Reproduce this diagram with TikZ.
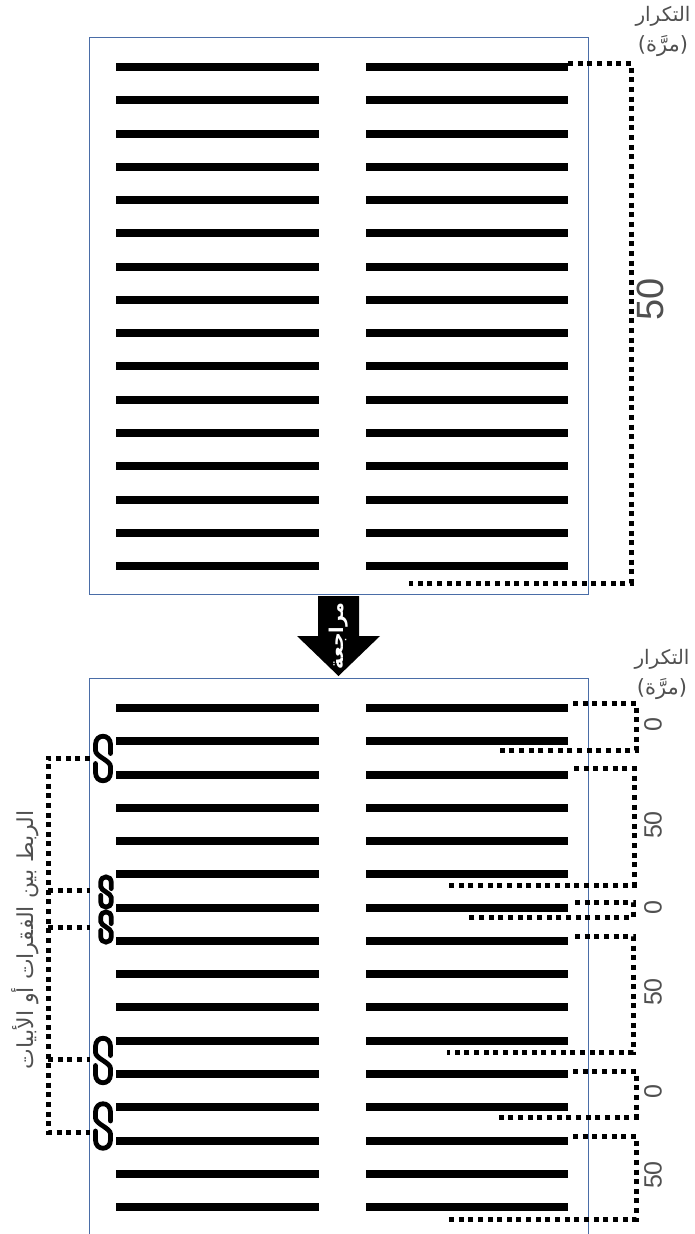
\documentclass[tikz,border=0pt]{standalone}
\usepackage{fontspec}
\TeXXeTstate=1
\newfontfamily\arabicfont[Script=Arabic]{DejaVu Sans}
\newfontfamily\digitfont{Liberation Sans}
\tikzset{
  panelline/.style={line width=1pt,color=panelblue},
  textbar/.style={line width=8pt,color=black},
  repdots/.style={line width=5pt,color=black,dash pattern=on 5pt off 4.65pt},
  linkstroke/.style={line width=4.8pt,color=black,line cap=round},
  replabel/.style={color=labelgray,inner sep=0pt},
  chainlink/.pic={
    \draw[linkstroke] (7.5,-5) -- (7.5,-14) .. controls (7.5,-25) and (-7.5,-25) .. (-7.5,-14) -- (-7.5,-8)
      .. controls (-7.5,-2) and (7.5,2) .. (7.5,8) -- (7.5,14) .. controls (7.5,25) and (-7.5,25) .. (-7.5,14) -- (-7.5,5);
  }
}
\definecolor{panelblue}{HTML}{4A6DA7}
\definecolor{labelgray}{HTML}{505050}
\begin{document}
\begin{tikzpicture}[x=1pt,y=-1pt]
  \useasboundingbox (0,0) rectangle (694,1234);
  \draw[panelline] (89,37) rectangle (588,594);
  \draw[panelline] (89,1234) -- (89,678) -- (588,678) -- (588,1234);
  \draw[textbar] (116,67.0) -- (319,67.0) (366,67.0) -- (568,67.0);
  \draw[textbar] (116,100.3) -- (319,100.3) (366,100.3) -- (568,100.3);
  \draw[textbar] (116,133.5) -- (319,133.5) (366,133.5) -- (568,133.5);
  \draw[textbar] (116,166.8) -- (319,166.8) (366,166.8) -- (568,166.8);
  \draw[textbar] (116,200.1) -- (319,200.1) (366,200.1) -- (568,200.1);
  \draw[textbar] (116,233.4) -- (319,233.4) (366,233.4) -- (568,233.4);
  \draw[textbar] (116,266.6) -- (319,266.6) (366,266.6) -- (568,266.6);
  \draw[textbar] (116,299.9) -- (319,299.9) (366,299.9) -- (568,299.9);
  \draw[textbar] (116,333.2) -- (319,333.2) (366,333.2) -- (568,333.2);
  \draw[textbar] (116,366.4) -- (319,366.4) (366,366.4) -- (568,366.4);
  \draw[textbar] (116,399.7) -- (319,399.7) (366,399.7) -- (568,399.7);
  \draw[textbar] (116,433.0) -- (319,433.0) (366,433.0) -- (568,433.0);
  \draw[textbar] (116,466.2) -- (319,466.2) (366,466.2) -- (568,466.2);
  \draw[textbar] (116,499.5) -- (319,499.5) (366,499.5) -- (568,499.5);
  \draw[textbar] (116,532.8) -- (319,532.8) (366,532.8) -- (568,532.8);
  \draw[textbar] (116,566.0) -- (319,566.0) (366,566.0) -- (568,566.0);
  \draw[textbar] (116,708.0) -- (319,708.0) (366,708.0) -- (568,708.0);
  \draw[textbar] (116,741.3) -- (319,741.3) (366,741.3) -- (568,741.3);
  \draw[textbar] (116,774.5) -- (319,774.5) (366,774.5) -- (568,774.5);
  \draw[textbar] (116,807.8) -- (319,807.8) (366,807.8) -- (568,807.8);
  \draw[textbar] (116,841.1) -- (319,841.1) (366,841.1) -- (568,841.1);
  \draw[textbar] (116,874.4) -- (319,874.4) (366,874.4) -- (568,874.4);
  \draw[textbar] (116,907.6) -- (319,907.6) (366,907.6) -- (568,907.6);
  \draw[textbar] (116,940.9) -- (319,940.9) (366,940.9) -- (568,940.9);
  \draw[textbar] (116,974.2) -- (319,974.2) (366,974.2) -- (568,974.2);
  \draw[textbar] (116,1007.4) -- (319,1007.4) (366,1007.4) -- (568,1007.4);
  \draw[textbar] (116,1040.7) -- (319,1040.7) (366,1040.7) -- (568,1040.7);
  \draw[textbar] (116,1074.0) -- (319,1074.0) (366,1074.0) -- (568,1074.0);
  \draw[textbar] (116,1107.2) -- (319,1107.2) (366,1107.2) -- (568,1107.2);
  \draw[textbar] (116,1140.5) -- (319,1140.5) (366,1140.5) -- (568,1140.5);
  \draw[textbar] (116,1173.8) -- (319,1173.8) (366,1173.8) -- (568,1173.8);
  \draw[textbar] (116,1207.0) -- (319,1207.0) (366,1207.0) -- (568,1207.0);
  \fill[color=black] (318,596) -- (359,596) -- (359,636) -- (380,636) -- (338.5,676) -- (297,636) -- (318,636) -- cycle;
  \node[rotate=90,color=white,inner sep=0pt] (revlabel) at (339,636) {\arabicfont\fontsize{19pt}{19pt}\selectfont\bfseries\beginR مراجعة\endR};
  \draw[repdots] (568,63) -- (631,63) -- (631,583) -- (409,583);
  \draw[repdots] (573,703) -- (636,703) -- (636,750) -- (497,750);
  \draw[repdots] (574,768) -- (634,768) -- (634,885) -- (447,885);
  \draw[repdots] (575,902) -- (633,902) -- (633,917) -- (467,917);
  \draw[repdots] (575,936) -- (633,936) -- (633,1052) -- (447,1052);
  \draw[repdots] (573,1071) -- (636,1071) -- (636,1117) -- (498,1117);
  \draw[repdots] (573,1136) -- (636,1136) -- (636,1219) -- (448,1219);
  \draw[repdots] (90,758) -- (48,758) -- (48,1132) -- (90,1132);
  \draw[repdots] (48,890) -- (90,890);
  \draw[repdots] (48,927) -- (90,927);
  \draw[repdots] (48,1059) -- (90,1059);
  \pic at (103,758.5) {chainlink};
  \pic[xscale=0.7,yscale=0.68] at (106,892) {chainlink};
  \pic[xscale=0.7,yscale=0.68] at (106,927) {chainlink};
  \pic at (103,1060.5) {chainlink};
  \pic at (103,1126) {chainlink};
  \node[replabel] (reptoptitle) at (663,16) {\arabicfont\fontsize{20pt}{20pt}\selectfont\beginR التكرار\endR};
  \node[replabel] (reptopunit) at (663,46) {\arabicfont\fontsize{21pt}{21pt}\selectfont\beginR (مرَّة)\endR};
  \node[replabel] (repbottitle) at (662,659) {\arabicfont\fontsize{20pt}{20pt}\selectfont\beginR التكرار\endR};
  \node[replabel] (repbotunit) at (662,689) {\arabicfont\fontsize{21pt}{21pt}\selectfont\beginR (مرَّة)\endR};
  \node[replabel,rotate=90] (linklabel) at (25,940) {\arabicfont\fontsize{22pt}{22pt}\selectfont\beginR الربط بين الفقرات أو الأبيات\endR};
  \node[replabel,rotate=90] (topcount) at (650,299) {\digitfont\fontsize{38pt}{38pt}\selectfont 50};
  \node[replabel,rotate=90] (countone) at (653,725) {\digitfont\fontsize{25pt}{25pt}\selectfont 0};
  \node[replabel,rotate=90] (counttwo) at (653,825) {\digitfont\fontsize{25pt}{25pt}\selectfont 50};
  \node[replabel,rotate=90] (countthree) at (653,908) {\digitfont\fontsize{25pt}{25pt}\selectfont 0};
  \node[replabel,rotate=90] (countfour) at (653,992) {\digitfont\fontsize{25pt}{25pt}\selectfont 50};
  \node[replabel,rotate=90] (countfive) at (653,1092) {\digitfont\fontsize{25pt}{25pt}\selectfont 0};
  \node[replabel,rotate=90] (countsix) at (653,1175) {\digitfont\fontsize{25pt}{25pt}\selectfont 50};
\end{tikzpicture}
\end{document}
